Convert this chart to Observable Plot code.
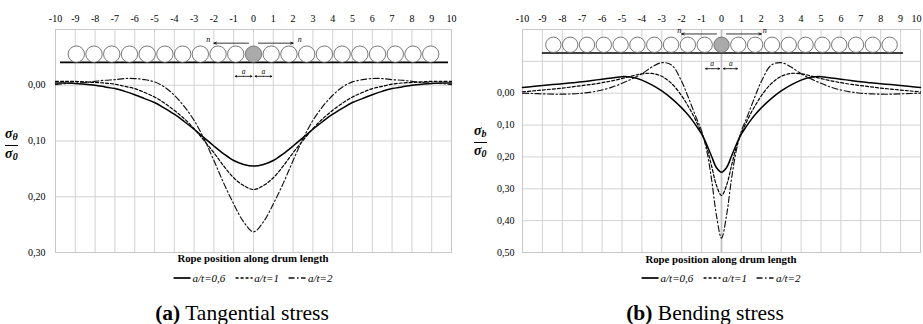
<!DOCTYPE html>
<html>
<head>
<meta charset="utf-8">
<script src="https://cdn.jsdelivr.net/npm/d3@7"></script>
<script src="https://cdn.jsdelivr.net/npm/@observablehq/plot@0.6"></script>
<style>
  html, body { margin: 0; padding: 0; background: #fff; }
  #figure { position: relative; width: 923px; height: 324px; overflow: hidden; font-family: "Liberation Serif", serif; color: #000; }
  #figure svg { position: absolute; top: 0; overflow: visible; }
  .xlabel { position: absolute; font-weight: bold; font-size: 10.8px; line-height: 12px; white-space: nowrap; transform: translateX(-50%); }
  .legend { position: absolute; display: flex; align-items: center; font-style: italic; font-size: 11px; line-height: 12px; white-space: nowrap; transform: translateX(-50%); }
  .legend .item { display: flex; align-items: center; margin-right: 10px; }
  .legend .item:last-child { margin-right: 0; }
  .legend svg { position: static !important; margin-right: 2px; }
  .caption { position: absolute; font-size: 21.5px; line-height: 24px; white-space: nowrap; transform: translateX(-50%); }
  .frac { position: absolute; display: flex; flex-direction: column; align-items: center; font-weight: bold; font-style: italic; font-size: 14px; line-height: 14px; }
  .frac .bar { width: 100%; border-top: 1.3px solid #000; margin: 1px 0 1px 0; }
  .frac sub { font-size: 10px; vertical-align: -2px; }
</style>
</head>
<body>
<div id="figure"></div>
<script>
// Horizontal axis: rope position along the drum (in rope pitches)
const xTickLabels = [-10, -9, -8, -7, -6, -5, -4, -3, -2, -1, 0, 1, 2, 3, 4, 5, 6, 7, 8, 9, 10];
const seriesNames = ["a/t=0,6", "a/t=1", "a/t=2"];

// (a) Tangential stress sigma_theta / sigma_0
const tangentialPos = [-10, -9.5, -9, -8.5, -8, -7.5, -7, -6.5, -6, -5.5, -5, -4.5, -4, -3.5, -3, -2.5, -2, -1.5, -1, -0.5, 0,
  0.5, 1, 1.5, 2, 2.5, 3, 3.5, 4, 4.5, 5, 5.5, 6, 6.5, 7, 7.5, 8, 8.5, 9, 9.5, 10];
const tangential06 = [-0.004, -0.004, -0.003, -0.002, 0.000, 0.003, 0.006, 0.011, 0.017, 0.024, 0.031, 0.041, 0.052, 0.065, 0.079, 0.094, 0.109, 0.123, 0.135, 0.142, 0.145,
  0.142, 0.135, 0.123, 0.109, 0.094, 0.079, 0.065, 0.052, 0.041, 0.031, 0.024, 0.017, 0.011, 0.006, 0.003, 0.000, -0.002, -0.003, -0.004, -0.004];
const tangential1 = [-0.007, -0.007, -0.007, -0.006, -0.005, -0.004, -0.002, 0.002, 0.006, 0.013, 0.021, 0.032, 0.045, 0.060, 0.078, 0.099, 0.121, 0.145, 0.166, 0.180, 0.187,
  0.180, 0.166, 0.145, 0.121, 0.099, 0.078, 0.060, 0.045, 0.032, 0.021, 0.013, 0.006, 0.002, -0.002, -0.004, -0.005, -0.006, -0.007, -0.007, -0.007];
const tangential2 = [-0.001, -0.003, -0.004, -0.005, -0.007, -0.009, -0.010, -0.012, -0.012, -0.010, -0.006, 0.003, 0.018, 0.038, 0.063, 0.096, 0.135, 0.176, 0.213, 0.245, 0.263,
  0.245, 0.213, 0.176, 0.135, 0.096, 0.063, 0.038, 0.018, 0.003, -0.006, -0.010, -0.012, -0.012, -0.010, -0.009, -0.007, -0.005, -0.004, -0.003, -0.001];
const tangentialTicks = [0, 0.1, 0.2, 0.3];

// (b) Bending stress sigma_b / sigma_0
const bendingPos = [-10, -9.5, -9, -8.5, -8, -7.5, -7, -6.5, -6, -5.5, -5, -4.5, -4, -3.5, -3, -2.5, -2, -1.75, -1.5, -1.25, -1, -0.75, -0.5, -0.25, 0,
  0.25, 0.5, 0.75, 1, 1.25, 1.5, 1.75, 2, 2.5, 3, 3.5, 4, 4.5, 5, 5.5, 6, 6.5, 7, 7.5, 8, 8.5, 9, 9.5, 10];
const bending06 = [-0.018, -0.021, -0.024, -0.027, -0.030, -0.033, -0.036, -0.040, -0.044, -0.048, -0.052, -0.050, -0.041, -0.026, -0.007, 0.017, 0.046, 0.063, 0.082, 0.104, 0.128, 0.160, 0.198, 0.234, 0.248,
  0.234, 0.198, 0.160, 0.128, 0.104, 0.082, 0.063, 0.046, 0.017, -0.007, -0.026, -0.041, -0.050, -0.052, -0.048, -0.044, -0.040, -0.036, -0.033, -0.030, -0.027, -0.024, -0.021, -0.018];
const bending1 = [-0.004, -0.007, -0.010, -0.013, -0.016, -0.020, -0.024, -0.028, -0.033, -0.039, -0.046, -0.054, -0.061, -0.062, -0.053, -0.030, 0.008, 0.033, 0.060, 0.091, 0.125, 0.168, 0.228, 0.290, 0.321,
  0.290, 0.228, 0.168, 0.125, 0.091, 0.060, 0.033, 0.008, -0.030, -0.053, -0.062, -0.061, -0.054, -0.046, -0.039, -0.033, -0.028, -0.024, -0.020, -0.016, -0.013, -0.010, -0.007, -0.004];
const bending2 = [0.000, 0.001, 0.002, 0.003, 0.003, 0.002, 0.000, -0.004, -0.010, -0.019, -0.031, -0.045, -0.061, -0.082, -0.096, -0.088, -0.037, 0.000, 0.040, 0.080, 0.118, 0.178, 0.270, 0.385, 0.455,
  0.385, 0.270, 0.178, 0.118, 0.080, 0.040, 0.000, -0.037, -0.088, -0.096, -0.082, -0.061, -0.045, -0.031, -0.019, -0.010, -0.004, 0.000, 0.002, 0.003, 0.003, 0.002, 0.001, 0.000];
const bendingTicks = [0, 0.1, 0.2, 0.3, 0.4, 0.5];

// Line styles for the three a/t ratios
const lineStyles = [
  {stroke: "#000", strokeWidth: 1.5, strokeDasharray: null},
  {stroke: "#000", strokeWidth: 1.2, strokeDasharray: "3,2"},
  {stroke: "#111", strokeWidth: 1.15, strokeDasharray: "6,2.5,1.5,2.5"}
];

const fmt = d => d.toFixed(2).replace(".", ",");
const figure = document.getElementById("figure");

function hatchDefs(svg, id) {
  const defs = d3.select(svg).insert("defs", ":first-child");
  const p = defs.append("pattern").attr("id", id).attr("patternUnits", "userSpaceOnUse")
    .attr("width", 2).attr("height", 2);
  p.append("rect").attr("width", 2).attr("height", 2).attr("fill", "#c8c8c8");
  p.append("rect").attr("width", 1).attr("height", 1).attr("fill", "#7a7a7a");
  p.append("rect").attr("x", 1).attr("y", 1).attr("width", 1).attr("height", 1).attr("fill", "#9a9a9a");
}

function makePanel(cfg) {
  const rows = cfg.series.map((vals, k) => vals.map((v, i) => ({x: cfg.pos[i], y: v, k})));
  const rope = cfg.rope;
  // 21 rope windings centred on the loaded one at x = 0
  const windings = d3.range(-10, 11).map(i => i * rope.pitch);
  const outer = windings.filter(w => w !== 0);

  const marks = [
    Plot.gridX(xTickLabels, {stroke: "#d2d2d2", strokeOpacity: 1, strokeWidth: 1}),
    Plot.gridY(cfg.grid, {stroke: "#d2d2d2", strokeOpacity: 1, strokeWidth: 1}),
  ];
  if (cfg.zeroRule) marks.push(Plot.ruleX([0], {stroke: "#c2c2c2", strokeWidth: 1.8}));
  marks.push(
    Plot.frame({stroke: "#c8c8c8"}),
    Plot.axisX(xTickLabels, {anchor: "top", tickSize: 0, tickPadding: 8, label: null, tickFormat: d => String(d)}),
    Plot.axisY(cfg.ticks, {anchor: "left", tickSize: 0, tickPadding: cfg.yPad, label: null, tickFormat: fmt}),
    // drum surface and rope windings
    Plot.ruleY([rope.base], {x1: rope.line[0], x2: rope.line[1], stroke: "#000", strokeWidth: 1.6}),
    Plot.dot(outer, {x: d => d, y: rope.y, r: rope.r, stroke: "#555", strokeWidth: 0.8, fill: "#fff"}),
    Plot.dot([0], {x: d => d, y: rope.y, r: rope.r, stroke: "#666", strokeWidth: 0.8, fill: "#aaa", ariaLabel: "loaded winding"}),
    // n arrows
    Plot.arrow([[-rope.nFrom, -rope.nTo], [rope.nFrom, rope.nTo]], {x1: d => d[0], x2: d => d[1], y1: rope.nY, y2: rope.nY, headLength: 5, headAngle: 45, stroke: "#000", strokeWidth: 0.8}),
    Plot.text([[-rope.nLabel, "n"], [rope.nLabel + 0.05, "n"]], {x: d => d[0], y: rope.nLabelY, text: d => d[1], fontStyle: "italic", fontSize: 8, fill: "#000"}),
    // a dimension arrows
    Plot.arrow([[-rope.aMid, -rope.aOut], [-rope.aMid, -rope.aIn], [rope.aMid, rope.aIn], [rope.aMid, rope.aOut]],
      {x1: d => d[0], x2: d => d[1], y1: rope.aY, y2: rope.aY, headLength: 3, headAngle: 50, stroke: "#000", strokeWidth: 0.8}),
    Plot.text([-rope.aMid, rope.aMid], {x: d => d, y: rope.aLabelY, text: () => "a", fontStyle: "italic", fontSize: 7.5, fill: "#000"})
  );
  rows.forEach((r, k) => marks.push(Plot.line(r, {x: "x", y: "y", curve: "catmull-rom", ...lineStyles[k]})));

  const svg = Plot.plot({
    width: cfg.width, height: 262,
    marginLeft: cfg.marginLeft, marginRight: cfg.marginRight, marginTop: 29, marginBottom: 10,
    style: {fontFamily: "Liberation Serif, serif", fontSize: "10px", color: "#000", background: "transparent", overflow: "visible"},
    x: {domain: [-10, 10]},
    y: {domain: cfg.yDomain, reverse: true},
    marks
  });
  const hid = "hatch-" + cfg.id;
  hatchDefs(svg, hid);
  d3.select(svg).selectAll('g[aria-label="loaded winding"] circle').attr("fill", `url(#${hid})`);
  if (cfg.endLabelInside) {
    // keep the last top label inside the page edge
    d3.select(svg).selectAll("text")
      .filter(function() { return this.textContent === "10"; })
      .attr("text-anchor", "end").attr("dx", 1);
  }
  svg.style.left = cfg.left + "px";
  figure.appendChild(svg);
}

function addText(cls, html, left, top) {
  const d = document.createElement("div");
  d.className = cls; d.innerHTML = html;
  d.style.left = left + "px"; d.style.top = top + "px";
  figure.appendChild(d);
  return d;
}

function addLegend(cx, top) {
  const d = addText("legend", "", cx, top);
  seriesNames.forEach((name, k) => {
    const s = lineStyles[k];
    const item = document.createElement("span");
    item.className = "item";
    item.innerHTML = `<svg width="17" height="6"><line x1="0" x2="17" y1="3" y2="3" stroke="${s.stroke}" stroke-width="${s.strokeWidth + 0.2}" ${s.strokeDasharray ? `stroke-dasharray="${s.strokeDasharray}"` : ""}/></svg><span>${name}</span>`;
    d.appendChild(item);
  });
}

function addFraction(sub, left, top) {
  addText("frac", `<div class="num">σ<sub>${sub}</sub></div><div class="bar"></div><div class="den">σ<sub>0</sub></div>`, left, top);
}

makePanel({
  id: "a", left: 0, width: 461, marginLeft: 55, marginRight: 10, yPad: 10,
  yDomain: [-0.1, 0.3], ticks: tangentialTicks, grid: [0, 0.1, 0.2],
  pos: tangentialPos, series: [tangential06, tangential1, tangential2],
  rope: {pitch: 0.895, y: -0.0558, r: 8.2, base: -0.041, line: [-9.75, 9.85],
    nY: -0.0755, nFrom: 0.25, nTo: 2.0, nLabel: 2.28, nLabelY: -0.082,
    aY: -0.016, aMid: 0.5, aIn: 0.08, aOut: 0.92, aLabelY: -0.025}
});

makePanel({
  id: "b", left: 463, width: 460, marginLeft: 59, marginRight: 3, yPad: 8, zeroRule: true, endLabelInside: true,
  yDomain: [-0.2, 0.5], ticks: bendingTicks, grid: [-0.1, 0, 0.1, 0.2, 0.3, 0.4],
  pos: bendingPos, series: [bending06, bending1, bending2],
  rope: {pitch: 0.845, y: -0.152, r: 7.7, base: -0.126, line: [-9.0, 9.15],
    nY: -0.186, nFrom: 0.25, nTo: 2.0, nLabel: 2.12, nLabelY: -0.197,
    aY: -0.077, aMid: 0.47, aIn: 0.1, aOut: 0.8, aLabelY: -0.093}
});

addText("xlabel", "Rope position along drum length", 253, 252);
addText("xlabel", "Rope position along drum length", 721, 253);
addLegend(253, 272);
addLegend(721, 272);
addText("caption", "<b>(a)</b> Tangential stress", 242, 301);
addText("caption", "<b>(b)</b> Bending stress", 705, 301);
addFraction("θ", 5, 127);
addFraction("b", 474, 124);
</script>
</body>
</html>
